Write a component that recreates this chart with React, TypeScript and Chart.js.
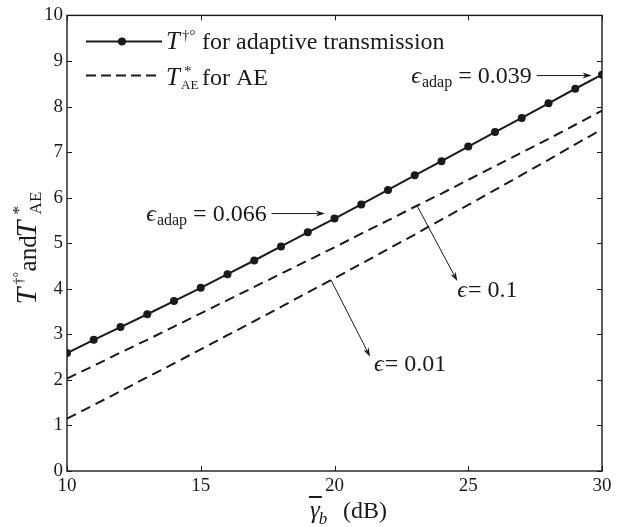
import React, { useEffect, useRef } from "react";
import { Chart, registerables } from "chart.js";

Chart.register(...registerables);

// ---- data ----
const gammaDb = [10, 11, 12, 13, 14, 15, 16, 17, 18, 19, 20, 21, 22, 23, 24, 25, 26, 27, 28, 29, 30];
const adaptiveT = [2.59, 2.88, 3.16, 3.44, 3.73, 4.02, 4.32, 4.62, 4.93, 5.24, 5.54, 5.85, 6.17, 6.49, 6.8, 7.12, 7.44, 7.75, 8.07, 8.39, 8.7];
const aeEps01 = [2.03, 2.31, 2.6, 2.88, 3.17, 3.46, 3.75, 4.04, 4.33, 4.62, 4.91, 5.21, 5.5, 5.8, 6.09, 6.39, 6.69, 6.99, 7.29, 7.6, 7.91];
const aeEps001 = [1.15, 1.45, 1.75, 2.06, 2.36, 2.67, 2.98, 3.29, 3.6, 3.92, 4.23, 4.55, 4.87, 5.19, 5.52, 5.84, 6.17, 6.5, 6.83, 7.17, 7.5];
const xTicks = [10, 15, 20, 25, 30];
const yTicks = [0, 1, 2, 3, 4, 5, 6, 7, 8, 9, 10];

const legendAdaptive = "for adaptive transmission";
const legendAE = "for AE";

// annotation anchors in data units
const adapNotes = [
  { value: "0.066", from: [17.65, 5.65], to: [19.64, 5.65] },
  { value: "0.039", from: [27.56, 8.68], to: [29.61, 8.68] },
];
const epsNotes = [
  { value: "0.1", from: [23.07, 5.84], to: [24.59, 4.17], dx: 0, dy: 16 },
  { value: "0.01", from: [19.87, 4.19], to: [21.33, 2.51], dx: 4, dy: 14 },
];

const SERIF = '"Liberation Serif", "Times New Roman", serif';
const INK = "#1a1a1a";

type Run = { t: string; size: number; italic?: boolean; dy?: number; dx?: number };

function font(size: number, italic?: boolean) {
  return `${italic ? "italic " : ""}${size}px ${SERIF}`;
}

function runsWidth(ctx: CanvasRenderingContext2D, runs: Run[]) {
  let w = 0;
  for (const r of runs) {
    ctx.font = font(r.size, r.italic);
    w += (r.dx || 0) + ctx.measureText(r.t).width;
  }
  return w;
}

function drawRuns(ctx: CanvasRenderingContext2D, runs: Run[], x: number, y: number) {
  let cx = x;
  ctx.textAlign = "left";
  ctx.textBaseline = "alphabetic";
  for (const r of runs) {
    cx += r.dx || 0;
    ctx.font = font(r.size, r.italic);
    ctx.fillText(r.t, cx, y + (r.dy || 0));
    cx += ctx.measureText(r.t).width;
  }
  return cx;
}

function arrow(ctx: CanvasRenderingContext2D, x1: number, y1: number, x2: number, y2: number) {
  const ang = Math.atan2(y2 - y1, x2 - x1);
  const hl = 9;
  const hw = 3;
  ctx.beginPath();
  ctx.moveTo(x1, y1);
  ctx.lineTo(x2 - Math.cos(ang) * hl * 0.7, y2 - Math.sin(ang) * hl * 0.7);
  ctx.lineWidth = 1;
  ctx.stroke();
  ctx.beginPath();
  ctx.moveTo(x2, y2);
  ctx.lineTo(x2 - Math.cos(ang) * hl - Math.sin(ang) * hw, y2 - Math.sin(ang) * hl + Math.cos(ang) * hw);
  ctx.lineTo(x2 - Math.cos(ang) * hl * 0.7, y2 - Math.sin(ang) * hl * 0.7);
  ctx.lineTo(x2 - Math.cos(ang) * hl + Math.sin(ang) * hw, y2 - Math.sin(ang) * hl - Math.cos(ang) * hw);
  ctx.closePath();
  ctx.fill();
}

const decorPlugin = {
  id: "decor",
  afterDraw(chart: any) {
    const ctx: CanvasRenderingContext2D = chart.ctx;
    const a = chart.chartArea;
    const xs = chart.scales.x;
    const ys = chart.scales.y;
    ctx.save();
    ctx.strokeStyle = INK;
    ctx.fillStyle = INK;

    // frame
    ctx.lineWidth = 1.4;
    ctx.strokeRect(a.left, a.top, a.right - a.left, a.bottom - a.top);

    // inward ticks
    ctx.lineWidth = 1;
    const tl = 5;
    ctx.beginPath();
    for (const v of xTicks) {
      const px = Math.round(xs.getPixelForValue(v)) + 0.5;
      ctx.moveTo(px, a.bottom);
      ctx.lineTo(px, a.bottom - tl);
      ctx.moveTo(px, a.top);
      ctx.lineTo(px, a.top + tl);
    }
    for (const v of yTicks) {
      const py = Math.round(ys.getPixelForValue(v)) + 0.5;
      ctx.moveTo(a.left, py);
      ctx.lineTo(a.left + tl, py);
      ctx.moveTo(a.right, py);
      ctx.lineTo(a.right - tl, py);
    }
    ctx.stroke();

    // legend
    const lx0 = a.left + 19;
    const ly1 = a.top + 26;
    const ly2 = a.top + 60;
    ctx.lineWidth = 2;
    ctx.beginPath();
    ctx.moveTo(lx0, ly1);
    ctx.lineTo(lx0 + 76, ly1);
    ctx.stroke();
    ctx.beginPath();
    ctx.arc(lx0 + 36, ly1, 4, 0, Math.PI * 2);
    ctx.fill();
    ctx.setLineDash([10, 5]);
    ctx.beginPath();
    ctx.moveTo(lx0, ly2);
    ctx.lineTo(lx0 + 74, ly2);
    ctx.stroke();
    ctx.setLineDash([]);

    const tx = a.left + 99;
    drawRuns(ctx, [{ t: "T", size: 25, italic: true }], tx, ly1 + 8);
    drawRuns(ctx, [{ t: "†°", size: 15 }], tx + 16, ly1 - 1);
    drawRuns(ctx, [{ t: legendAdaptive, size: 24 }], tx + 36, ly1 + 8);
    // T*_AE
    drawRuns(ctx, [{ t: "T", size: 25, italic: true }], tx, ly2 + 10);
    drawRuns(ctx, [{ t: "*", size: 15 }], tx + 18, ly2 + 1);
    drawRuns(ctx, [{ t: "AE", size: 13 }], tx + 15, ly2 + 14);
    drawRuns(ctx, [{ t: legendAE, size: 24 }], tx + 36, ly2 + 10);

    // adap annotations
    for (const n of adapNotes) {
      const x1 = xs.getPixelForValue(n.from[0]);
      const y1 = ys.getPixelForValue(n.from[1]);
      const x2 = xs.getPixelForValue(n.to[0]);
      const y2 = ys.getPixelForValue(n.to[1]);
      arrow(ctx, x1, y1, x2, y2);
      const runs: Run[] = [
        { t: "ϵ", size: 24, italic: true },
        { t: "adap", size: 16, dy: 4, dx: 1 },
        { t: " = " + n.value, size: 24 },
      ];
      const w = runsWidth(ctx, runs);
      drawRuns(ctx, runs, x1 - 5 - w, y1 + 7);
    }
    for (const n of epsNotes) {
      const x1 = xs.getPixelForValue(n.from[0]);
      const y1 = ys.getPixelForValue(n.from[1]);
      const x2 = xs.getPixelForValue(n.to[0]);
      const y2 = ys.getPixelForValue(n.to[1]);
      arrow(ctx, x1, y1, x2, y2);
      drawRuns(ctx, [
        { t: "ϵ", size: 24, italic: true },
        { t: "= " + n.value, size: 24, dx: 1 },
      ], x2 + n.dx, y2 + n.dy);
    }

    // x title
    {
      const gx = a.left + 243;
      const base = a.bottom + 47;
      ctx.font = font(25, true);
      const gw = ctx.measureText("γ").width;
      drawRuns(ctx, [{ t: "γ", size: 25, italic: true }], gx, base);
      ctx.lineWidth = 2;
      ctx.beginPath();
      ctx.moveTo(gx - 1, base - 21);
      ctx.lineTo(gx + gw + 2, base - 21);
      ctx.stroke();
      drawRuns(ctx, [{ t: "b", size: 17, italic: true }], gx + gw - 1, base + 6);
      drawRuns(ctx, [{ t: "(dB)", size: 24 }], gx + 33, base);
    }

    // y title (rotated)
    {
      ctx.save();
      ctx.translate(a.left - 31, a.top + 289);
      ctx.rotate(-Math.PI / 2);
      drawRuns(ctx, [{ t: "T", size: 30, italic: true }], 0, 0);
      drawRuns(ctx, [{ t: "†°", size: 14 }], 20, -13);
      drawRuns(ctx, [{ t: "and", size: 25 }], 33, 0);
      drawRuns(ctx, [{ t: "T", size: 30, italic: true }], 67, 0);
      drawRuns(ctx, [{ t: "*", size: 17 }], 90, -12);
      drawRuns(ctx, [{ t: "AE", size: 17 }], 90, 5);
      ctx.restore();
    }

    ctx.restore();
  },
};

export default function App() {
  const ref = useRef<HTMLCanvasElement | null>(null);
  useEffect(() => {
    document.body.style.margin = "0";
    const canvas = ref.current;
    if (!canvas) return;
    const toPts = (ys: number[]) => gammaDb.map((g, i) => ({ x: g, y: ys[i] }));
    const chart = new Chart(canvas, {
      type: "line",
      data: {
        datasets: [
          {
            label: "adaptive",
            data: toPts(adaptiveT),
            borderColor: INK,
            backgroundColor: INK,
            borderWidth: 2,
            pointRadius: 4,
            pointBackgroundColor: INK,
            pointBorderWidth: 0,
            tension: 0,
          },
          {
            label: "AE eps 0.1",
            data: toPts(aeEps01),
            borderColor: INK,
            borderWidth: 2,
            borderDash: [10, 6],
            pointRadius: 0,
            tension: 0,
          },
          {
            label: "AE eps 0.01",
            data: toPts(aeEps001),
            borderColor: INK,
            borderWidth: 2,
            borderDash: [10, 6],
            pointRadius: 0,
            tension: 0,
          },
        ],
      },
      options: {
        animation: false,
        responsive: false,
        maintainAspectRatio: false,
        layout: { padding: { top: 11, right: 24, left: 0, bottom: 0 } },
        plugins: { legend: { display: false }, tooltip: { enabled: false } },
        scales: {
          x: {
            type: "linear",
            min: 10,
            max: 30,
            grid: { display: false, drawTicks: false, tickLength: 0 },
            border: { display: false },
            afterFit: (s: any) => { s.height = 56; },
            afterBuildTicks: (s: any) => { s.ticks = xTicks.map((v) => ({ value: v })); },
            ticks: { font: { family: SERIF, size: 19 }, color: INK, padding: 4, maxRotation: 0 },
          },
          y: {
            type: "linear",
            min: 0,
            max: 10,
            grid: { display: false, drawTicks: false, tickLength: 0 },
            border: { display: false },
            afterFit: (s: any) => { s.width = 67; },
            afterBuildTicks: (s: any) => { s.ticks = yTicks.map((v) => ({ value: v })); },
            ticks: { font: { family: SERIF, size: 19 }, color: INK, padding: 4 },
          },
        },
      },
      plugins: [decorPlugin],
    } as any);
    return () => chart.destroy();
  }, []);
  return (
    <div style={{ width: 626, height: 527, background: "#fff" }}>
      <canvas ref={ref} width={626} height={527} style={{ display: "block" }} />
    </div>
  );
}
